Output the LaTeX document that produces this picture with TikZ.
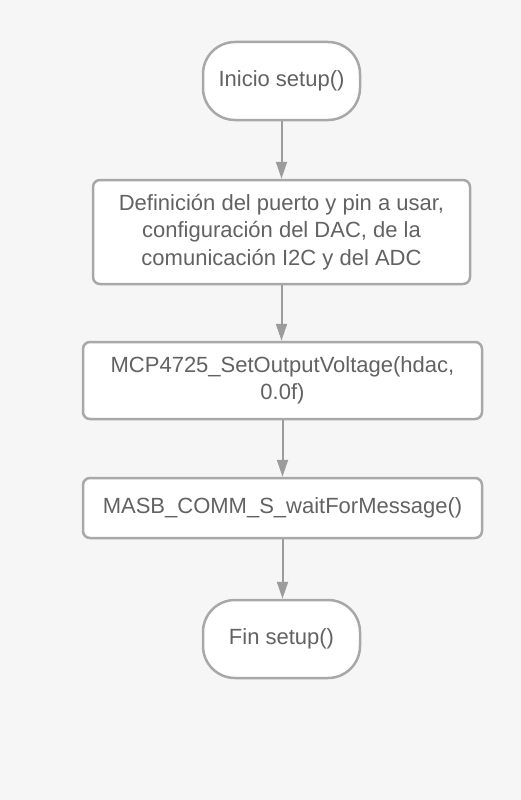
\documentclass[tikz,border=0pt]{standalone}
\usepackage{fontspec}
\setmainfont{Liberation Sans}
\usetikzlibrary{positioning}
\usetikzlibrary{arrows.meta}
\definecolor{pagebg}{HTML}{F6F6F6}
\definecolor{boxline}{HTML}{A8A8A8}
\definecolor{flowline}{HTML}{9C9C9C}
\definecolor{boxtext}{HTML}{626262}

\begin{document}
\begin{tikzpicture}
          [x=1pt, y=1pt, node distance=56pt,
           every node/.style={font=\fontsize{22}{27.5}\selectfont, text=boxtext, align=center},
           terminal/.style={draw=boxline, line width=2.5pt, fill=white, rounded corners=32pt,
                            minimum width=157pt, minimum height=78pt},
           process/.style={draw=boxline, line width=2.5pt, fill=white, rounded corners=7pt,
                           minimum width=399pt},
           flow/.style={draw=flowline, line width=2pt, -{Triangle[width=11pt,length=17pt]}}]
          \fill[pagebg] (0,0) rectangle (521,-800);
          \useasboundingbox (0,0) rectangle (521,-800);

          \node (ini) [terminal] at (281.5,-81) {Inicio setup()};
          \node (conf) [process, below = 57.5pt of ini, minimum width=377pt, minimum height=104pt]
            {Definición del puerto y pin a usar,\\configuración del DAC, de la\\comunicación I2C y del ADC};
          \node (volt) [process, below = 55.5pt of conf, xshift=1pt, minimum height=77pt]
            {MCP4725\_SetOutputVoltage(hdac,\\0.0f)};
          \node (wait) [process, below = 56.5pt of volt, minimum height=60pt]
            {MASB\_COMM\_S\_waitForMessage()};
          \node (fin) [terminal, below = 59.5pt of wait, xshift=-1pt] {Fin setup()};

          \draw[flow] (ini) -- (conf);
          \draw[flow] (conf) -- (volt.north -| conf.south);
          \draw[flow] (volt) -- (wait);
          \draw[flow] (wait) -- (fin.north -| wait.south);
        \end{tikzpicture}
\end{document}
